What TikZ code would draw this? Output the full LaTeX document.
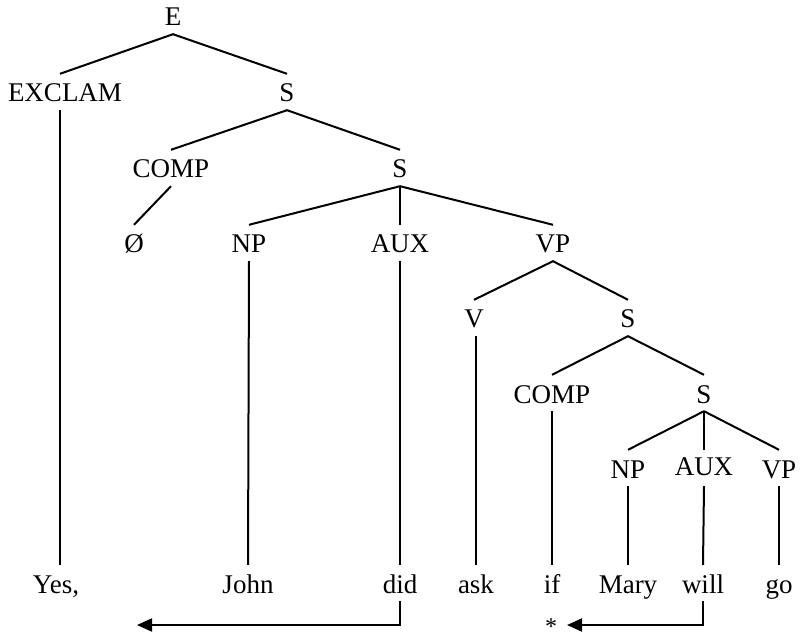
\documentclass[tikz,border=0pt]{standalone}
\usepackage{fontspec}
\setmainfont{Liberation Serif}
\usetikzlibrary{arrows.meta}
\begin{document}
\begin{tikzpicture}[x=1pt,y=-1pt,
  lab/.style={anchor=base,inner sep=0pt,text height=28pt,text depth=8pt,font=\fontsize{27}{32}\selectfont},
  edge/.style={line width=2pt},
  mv/.style={line width=2pt,-{Triangle[length=15pt,width=13pt]}}]
\useasboundingbox (0,0) rectangle (801,636);
% tree labels
\node[lab] (E) at (173,26) {E};
\node[lab] (EX) at (65,102) {EXCLAM};
\node[lab] (S1) at (287,102) {S};
\node[lab] (C1) at (171,178) {COMP};
\node[lab] (S2) at (400,178) {S};
\node[lab] (Z) at (134,253) {Ø};
\node[lab] (NP1) at (249,253) {NP};
\node[lab] (AUX1) at (400,253) {AUX};
\node[lab] (VP1) at (553,253) {VP};
\node[lab] (V) at (474,328) {V};
\node[lab] (S3) at (628,328) {S};
\node[lab] (C2) at (552,403) {COMP};
\node[lab] (S4) at (704,403) {S};
\node[lab] (NP2) at (628,478) {NP};
\node[lab] (AUX2) at (704,478) {\raisebox{2.5pt}{AUX}};
\node[lab] (VP2) at (779,478) {VP};
% words
\node[lab] (yes) at (56,593) {Yes,};
\node[lab] (john) at (248,593) {John};
\node[lab] (did) at (400,593) {did};
\node[lab] (ask) at (476,593) {ask};
\node[lab] (if) at (552,593) {if};
\node[lab] (mary) at (628,593) {Mary};
\node[lab] (will) at (703,593) {will};
\node[lab] (go) at (779,593) {go};
\node[inner sep=0pt,font=\fontsize{24}{28}\selectfont] (star) at (551,627) {*};
\coordinate (t1) at (137,625);
\coordinate (t2) at (567,625);
% branches
\draw[edge] ([xshift=-5pt]EX.north) -- (E.south) -- (S1.north);
\draw[edge] ([xshift=-5pt]EX.south) -- ([xshift=4pt]yes.north);
\draw[edge] (C1.north) -- (S1.south) -- (S2.north);
\draw[edge] (C1.south) -- (Z.north);
\draw[edge] (S2.south) -- (NP1.north);
\draw[edge] (S2.south) -- (AUX1.north);
\draw[edge] (S2.south) -- (VP1.north);
\draw[edge] (NP1.south) -- (john.north);
\draw[edge] (AUX1.south) -- (did.north);
\draw[edge] (V.north) -- (VP1.south) -- (S3.north);
\draw[edge] (ask.north |- V.south) -- (ask.north);
\draw[edge] (C2.north) -- (S3.south) -- (S4.north);
\draw[edge] (C2.south) -- (if.north);
\draw[edge] (S4.south) -- (NP2.north);
\draw[edge] (S4.south) -- (AUX2.north);
\draw[edge] (S4.south) -- (VP2.north);
\draw[edge] (NP2.south) -- (mary.north);
\draw[edge] (AUX2.south) -- (will.north);
\draw[edge] (VP2.south) -- (go.north);
% movement arrows
\draw[mv] (did.south) |- (t1);
\draw[mv] (will.south) |- (t2);
\end{tikzpicture}
\end{document}
